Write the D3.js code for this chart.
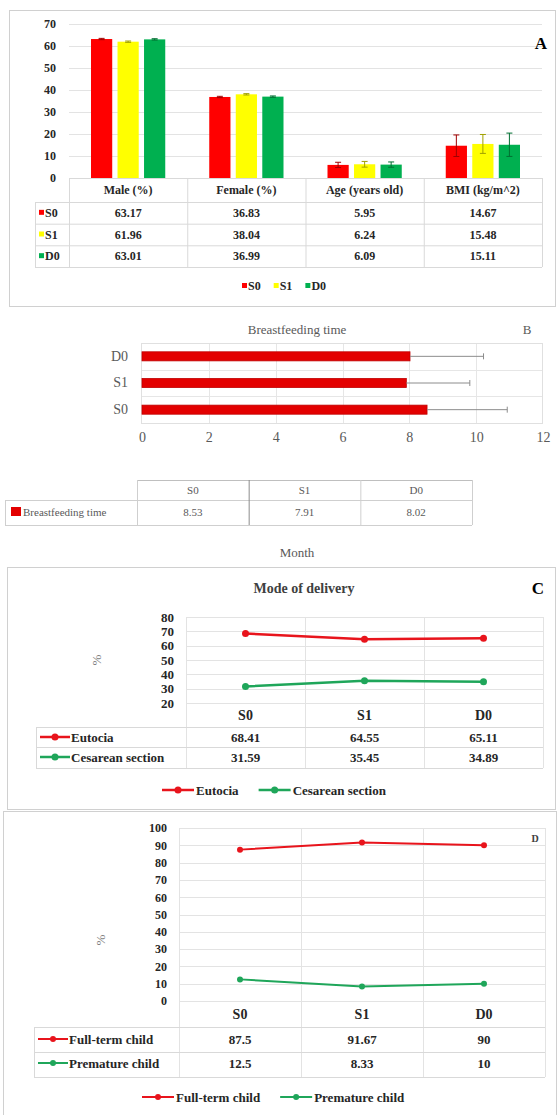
<!DOCTYPE html>
<html>
<head>
<meta charset="utf-8">
<script src="https://cdn.jsdelivr.net/npm/d3@7"></script>
<style>
  body { margin: 0; background: #fff; }
  svg { display: block; }
  svg text { font-family: "Liberation Serif", "Times New Roman", "DejaVu Serif", serif !important; }
</style>
</head>
<body>
<div id="chart"></div>
<script>
"use strict";

// ---- data ----
const groups = ["S0", "S1", "D0"];
const groupColors = ["#ff0000", "#ffff00", "#00b050"];

// panel A
const aCategories = ["Male (%)", "Female (%)", "Age (years old)", "BMI (kg/m^2)"];
const aS0 = [63.17, 36.83, 5.95, 14.67];
const aS1 = [61.96, 38.04, 6.24, 15.48];
const aD0 = [63.01, 36.99, 6.09, 15.11];
const aErrS0 = [0.3, 0.3, 1.2, 4.9];
const aErrS1 = [0.3, 0.3, 1.3, 4.3];
const aErrD0 = [0.3, 0.3, 1.2, 5.3];
const aTicks = [0, 10, 20, 30, 40, 50, 60, 70];

// panel B
const bGroups = ["S0", "S1", "D0"];
const bMeans = [8.53, 7.91, 8.02];
const bSD = [2.4, 1.9, 2.2];
const bTicks = [0, 2, 4, 6, 8, 10, 12];

// panel C
const cGroups = ["S0", "S1", "D0"];
const eutocia = [68.41, 64.55, 65.11];
const cesarean = [31.59, 35.45, 34.89];
const cTicks = [20, 30, 40, 50, 60, 70, 80];

// panel D
const dGroups = ["S0", "S1", "D0"];
const fullTerm = [87.5, 91.67, 90];
const premature = [12.5, 8.33, 10];
const dTicks = [0, 10, 20, 30, 40, 50, 60, 70, 80, 90, 100];

const lineRed = "#e8141c";
const lineGreen = "#1fa65a";
const gridCol = "#d9d9d9";
const textDark = "#262626";

let width = 557;
let height = 1115;

let svg = d3.select("#chart")
  .append("svg")
  .attr("width", width)
  .attr("height", height);

// panel frames
svg.append("rect").attr("x", 9.5).attr("y", 10.5).attr("width", 546).attr("height", 296)
  .attr("fill", "none").attr("stroke", "#d0d0d0");
svg.append("rect").attr("x", 7.5).attr("y", 567.5).attr("width", 548).attr("height", 242)
  .attr("fill", "none").attr("stroke", "#d0d0d0");
svg.append("rect").attr("x", 3.5).attr("y", 811.5).attr("width", 553).attr("height", 310)
  .attr("fill", "none").attr("stroke", "#d0d0d0");

// ================= Panel A =================
{
  let g = svg.append("g");
  let x0 = d3.scaleBand().domain(aCategories).range([69, 542]);
  let x1 = d3.scaleBand().domain(groups).range([22, x0.bandwidth() - 22]).paddingInner(0.2);
  let y = d3.scaleLinear().domain([0, 70]).range([178, 24]);
  let color = d3.scaleOrdinal().domain(groups).range(groupColors);
  let vals = [aS0, aS1, aD0];
  let errs = [aErrS0, aErrS1, aErrD0];

  let rows = [];
  aCategories.forEach((c, i) => groups.forEach((s, j) => {
    rows.push({ cat: c, grp: s, v: vals[j][i], e: errs[j][i] });
  }));

  // gridlines
  g.selectAll(".grid").data(aTicks.slice(1)).enter().append("line")
    .attr("x1", 69).attr("x2", 542)
    .attr("y1", d => y(d) + 0.5).attr("y2", d => y(d) + 0.5)
    .attr("stroke", "#e3e3e3");

  // y axis labels
  let ya = g.append("g").attr("transform", "translate(60,0)")
    .call(d3.axisLeft(y).tickValues(aTicks).tickSize(0).tickPadding(4));
  ya.select(".domain").remove();
  ya.selectAll("text").attr("font-weight", "bold").attr("font-size", 12).attr("fill", textDark);

  // bars
  g.selectAll(".bar").data(rows).enter().append("rect")
    .attr("x", d => x0(d.cat) + x1(d.grp))
    .attr("y", d => y(d.v))
    .attr("width", x1.bandwidth())
    .attr("height", d => y(0) - y(d.v))
    .attr("fill", d => color(d.grp));

  // error bars
  let eb = g.selectAll(".err").data(rows).enter().append("g")
    .attr("stroke", d => d3.color(color(d.grp)).darker(1.3))
    .attr("stroke-width", 1);
  eb.append("line")
    .attr("x1", d => x0(d.cat) + x1(d.grp) + x1.bandwidth() / 2)
    .attr("x2", d => x0(d.cat) + x1(d.grp) + x1.bandwidth() / 2)
    .attr("y1", d => y(d.v - d.e)).attr("y2", d => y(d.v + d.e));
  eb.append("line")
    .attr("x1", d => x0(d.cat) + x1(d.grp) + x1.bandwidth() / 2 - 3)
    .attr("x2", d => x0(d.cat) + x1(d.grp) + x1.bandwidth() / 2 + 3)
    .attr("y1", d => y(d.v + d.e)).attr("y2", d => y(d.v + d.e));
  eb.append("line")
    .attr("x1", d => x0(d.cat) + x1(d.grp) + x1.bandwidth() / 2 - 3)
    .attr("x2", d => x0(d.cat) + x1(d.grp) + x1.bandwidth() / 2 + 3)
    .attr("y1", d => y(d.v - d.e)).attr("y2", d => y(d.v - d.e));

  // data table
  let ty = d3.scaleBand().domain(groups).range([202, 267]);
  g.append("line").attr("x1", 69).attr("x2", 542).attr("y1", 178.5).attr("y2", 178.5).attr("stroke", gridCol);
  [202, 223.7, 245.3, 267].forEach(v => {
    g.append("line").attr("x1", 35).attr("x2", 542).attr("y1", v + 0.5).attr("y2", v + 0.5).attr("stroke", gridCol);
  });
  x0.domain().concat(["end"]).forEach(c => {
    let xx = c === "end" ? 542 : x0(c);
    g.append("line").attr("x1", xx + 0.5).attr("x2", xx + 0.5).attr("y1", 178).attr("y2", 267).attr("stroke", gridCol);
  });
  g.append("line").attr("x1", 35.5).attr("x2", 35.5).attr("y1", 202).attr("y2", 267).attr("stroke", gridCol);

  g.selectAll(".hdr").data(aCategories).enter().append("text")
    .attr("x", d => x0(d) + x0.bandwidth() / 2).attr("y", 194)
    .attr("text-anchor", "middle").attr("font-size", 12).attr("font-weight", "bold").attr("fill", textDark)
    .text(d => d);

  groups.forEach((s, j) => {
    let cy = ty(s) + ty.bandwidth() / 2;
    g.append("rect").attr("x", 39).attr("y", cy - 3).attr("width", 5).attr("height", 5).attr("fill", color(s));
    g.append("text").attr("x", 45).attr("y", cy + 4).attr("font-size", 12).attr("font-weight", "bold")
      .attr("fill", textDark).text(s);
    g.selectAll(".cell" + j).data(aCategories).enter().append("text")
      .attr("x", d => x0(d) + x0.bandwidth() / 2).attr("y", cy + 4)
      .attr("text-anchor", "middle").attr("font-size", 12).attr("font-weight", "bold").attr("fill", textDark)
      .text((d, i) => vals[j][i].toFixed(2));
  });

  // legend
  let lg = g.append("g").attr("transform", "translate(242,286)");
  let lx = 0;
  groups.forEach(s => {
    lg.append("rect").attr("x", lx).attr("y", -3).attr("width", 5).attr("height", 5).attr("fill", color(s));
    let t = lg.append("text").attr("x", lx + 6).attr("y", 4).attr("font-size", 12).attr("font-weight", "bold")
      .attr("fill", textDark).text(s);
    lx += 6 + t.node().getComputedTextLength() + 13;
  });

  g.append("text").attr("x", 541).attr("y", 49).attr("text-anchor", "middle")
    .attr("font-size", 17).attr("font-weight", "bold").attr("fill", "#000").text("A");
}

// ================= Panel B =================
{
  let g = svg.append("g");
  let grey = "#595959";
  let x = d3.scaleLinear().domain([0, 12]).range([142, 543]);
  let y = d3.scaleBand().domain(["D0", "S1", "S0"]).range([343, 423]).paddingInner(0.66).paddingOuter(0.33);
  let rows = bGroups.map((s, i) => ({ grp: s, v: bMeans[i], e: bSD[i] }));

  g.append("text").attr("x", 297).attr("y", 334).attr("text-anchor", "middle")
    .attr("font-size", 13).attr("fill", grey).text("Breastfeeding time");
  g.append("text").attr("x", 527).attr("y", 334).attr("text-anchor", "middle")
    .attr("font-size", 13).attr("fill", grey).text("B");

  // grid
  g.selectAll(".vg").data(bTicks.slice(1, -1)).enter().append("line")
    .attr("x1", d => Math.round(x(d)) + 0.5).attr("x2", d => Math.round(x(d)) + 0.5)
    .attr("y1", 343).attr("y2", 423).attr("stroke", "#e6e6e6");
  [343 + 80 / 3, 343 + 160 / 3].forEach(v => {
    g.append("line").attr("x1", 142).attr("x2", 543).attr("y1", Math.round(v) + 0.5).attr("y2", Math.round(v) + 0.5)
      .attr("stroke", "#e6e6e6");
  });
  g.append("rect").attr("x", 141.5).attr("y", 343.5).attr("width", 401).attr("height", 80)
    .attr("fill", "none").attr("stroke", "#e0e0e0");

  // bars
  g.selectAll(".bbar").data(rows).enter().append("rect")
    .attr("x", x(0)).attr("y", d => y(d.grp))
    .attr("width", d => x(d.v) - x(0)).attr("height", y.bandwidth())
    .attr("fill", "#e30000").attr("stroke", "#c00000").attr("stroke-width", 0.8);

  // error bars
  let eb = g.selectAll(".berr").data(rows).enter().append("g").attr("stroke", "#8c8c8c");
  eb.append("line").attr("x1", d => x(d.v)).attr("x2", d => x(d.v + d.e))
    .attr("y1", d => y(d.grp) + y.bandwidth() / 2).attr("y2", d => y(d.grp) + y.bandwidth() / 2);
  eb.append("line").attr("x1", d => x(d.v + d.e)).attr("x2", d => x(d.v + d.e))
    .attr("y1", d => y(d.grp) + y.bandwidth() / 2 - 3).attr("y2", d => y(d.grp) + y.bandwidth() / 2 + 3);

  // axes labels
  let xa = g.append("g").attr("transform", "translate(0,428)")
    .call(d3.axisBottom(x).tickValues(bTicks).tickSize(0).tickPadding(4));
  xa.select(".domain").remove();
  xa.selectAll("text").attr("font-size", 14).attr("fill", grey);

  let ya = g.append("g").attr("transform", "translate(132,0)")
    .call(d3.axisLeft(y).tickSize(0).tickPadding(4));
  ya.select(".domain").remove();
  ya.selectAll("text").attr("font-size", 14).attr("fill", grey);

  // data table
  let tx = d3.scaleBand().domain(bGroups).range([137, 472]);
  g.append("line").attr("x1", 137).attr("x2", 472).attr("y1", 480.5).attr("y2", 480.5).attr("stroke", "#bfbfbf");
  [500, 525].forEach(v => g.append("line").attr("x1", 5).attr("x2", 472)
    .attr("y1", v + 0.5).attr("y2", v + 0.5).attr("stroke", "#cfcfcf"));
  g.append("line").attr("x1", 5.5).attr("x2", 5.5).attr("y1", 500).attr("y2", 525).attr("stroke", "#cfcfcf");
  bGroups.concat(["end"]).forEach(s => {
    let xx = s === "end" ? 472 : tx(s);
    g.append("line").attr("x1", xx + 0.5).attr("x2", xx + 0.5).attr("y1", 480).attr("y2", 525)
      .attr("stroke", s === "S1" ? "#8c8c8c" : "#cfcfcf");
  });
  g.selectAll(".bh").data(bGroups).enter().append("text")
    .attr("x", d => tx(d) + tx.bandwidth() / 2).attr("y", 494)
    .attr("text-anchor", "middle").attr("font-size", 11).attr("fill", grey).text(d => d);
  g.selectAll(".bv").data(rows).enter().append("text")
    .attr("x", d => tx(d.grp) + tx.bandwidth() / 2).attr("y", 516)
    .attr("text-anchor", "middle").attr("font-size", 11).attr("fill", grey).text(d => d.v.toFixed(2));
  g.append("rect").attr("x", 11).attr("y", 507).attr("width", 10).attr("height", 9).attr("fill", "#e30000");
  g.append("text").attr("x", 23).attr("y", 516).attr("font-size", 11).attr("fill", grey).text("Breastfeeding time");

  g.append("text").attr("x", 297).attr("y", 557).attr("text-anchor", "middle")
    .attr("font-size", 13).attr("fill", grey).text("Month");
}

// ================= Line panels C and D =================
function linePanel(o) {
  let g = svg.append("g");
  let x = d3.scaleBand().domain(o.cats).range(o.xRange);
  let y = d3.scaleLinear().domain(o.yDomain).range(o.yRange);
  let [xl, xr] = o.xRange;

  // horizontal gridlines
  g.selectAll(".hg").data(o.ticks).enter().append("line")
    .attr("x1", xl).attr("x2", xr)
    .attr("y1", d => Math.round(y(d)) + 0.5).attr("y2", d => Math.round(y(d)) + 0.5)
    .attr("stroke", "#e3e3e3");
  // vertical band lines (run through the table)
  o.cats.concat(["end"]).forEach(c => {
    let xx = c === "end" ? xr : x(c);
    g.append("line").attr("x1", Math.round(xx) + 0.5).attr("x2", Math.round(xx) + 0.5)
      .attr("y1", o.yRange[1]).attr("y2", o.rowLines[o.rowLines.length - 1]).attr("stroke", "#e3e3e3");
  });
  o.rowLines.forEach(v => g.append("line").attr("x1", o.tableLeft).attr("x2", xr)
    .attr("y1", v + 0.5).attr("y2", v + 0.5).attr("stroke", gridCol));
  g.append("line").attr("x1", o.tableLeft + 0.5).attr("x2", o.tableLeft + 0.5)
    .attr("y1", o.rowLines[0]).attr("y2", o.rowLines[o.rowLines.length - 1]).attr("stroke", gridCol);

  // y axis labels
  let ya = g.append("g").attr("transform", `translate(${xl - 8},0)`)
    .call(d3.axisLeft(y).tickValues(o.ticks).tickSize(0).tickPadding(4));
  ya.select(".domain").remove();
  ya.selectAll("text").attr("font-weight", "bold").attr("font-size", o.tickSize).attr("fill", textDark);

  g.append("text").attr("transform", `translate(${o.pctX},${o.pctY}) rotate(-90)`)
    .attr("text-anchor", "middle").attr("font-size", 13).attr("fill", "#7f7f7f").text("%");

  // lines
  let line = d3.line().x((d, i) => x(o.cats[i]) + x.bandwidth() / 2).y(d => y(d));
  o.series.forEach(s => {
    g.append("path").datum(s.values).attr("d", line)
      .attr("fill", "none").attr("stroke", s.color).attr("stroke-width", o.lw);
    g.selectAll(null).data(s.values).enter().append("circle")
      .attr("cx", (d, i) => x(o.cats[i]) + x.bandwidth() / 2).attr("cy", d => y(d))
      .attr("r", o.r).attr("fill", s.color);
  });

  // table: categories and values
  g.selectAll(".cl").data(o.cats).enter().append("text")
    .attr("x", d => x(d) + x.bandwidth() / 2).attr("y", o.catY)
    .attr("text-anchor", "middle").attr("font-size", 14).attr("font-weight", "bold").attr("fill", textDark)
    .text(d => d);
  o.series.forEach((s, k) => {
    let cy = o.rowY[k];
    g.append("line").attr("x1", o.tableLeft + 4).attr("x2", o.tableLeft + 34)
      .attr("y1", cy).attr("y2", cy).attr("stroke", s.color).attr("stroke-width", o.lw);
    g.append("circle").attr("cx", o.tableLeft + 19).attr("cy", cy).attr("r", o.r).attr("fill", s.color);
    g.append("text").attr("x", o.tableLeft + 35).attr("y", cy + 4.5).attr("font-size", 13)
      .attr("font-weight", "bold").attr("fill", textDark).text(s.name);
    g.selectAll(null).data(s.values).enter().append("text")
      .attr("x", (d, i) => x(o.cats[i]) + x.bandwidth() / 2).attr("y", cy + 4.5)
      .attr("text-anchor", "middle").attr("font-size", 13).attr("font-weight", "bold").attr("fill", textDark)
      .text(d => String(d));
  });

  // legend
  let lg = g.append("g").attr("transform", `translate(${o.legendX},${o.legendY})`);
  let lx = 0;
  o.series.forEach(s => {
    lg.append("line").attr("x1", lx).attr("x2", lx + 32).attr("y1", 0).attr("y2", 0)
      .attr("stroke", s.color).attr("stroke-width", o.lw);
    lg.append("circle").attr("cx", lx + 16).attr("cy", 0).attr("r", o.r).attr("fill", s.color);
    let t = lg.append("text").attr("x", lx + 34).attr("y", 4.5).attr("font-size", 13).attr("font-weight", "bold")
      .attr("fill", textDark).text(s.name);
    lx += 34 + t.node().getComputedTextLength() + 20;
  });
  return g;
}

let gc = linePanel({
  cats: cGroups, ticks: cTicks, yDomain: [20, 80], yRange: [703, 617], xRange: [186, 543],
  series: [{ name: "Eutocia", values: eutocia, color: lineRed },
           { name: "Cesarean section", values: cesarean, color: lineGreen }],
  rowLines: [727, 747, 768], tableLeft: 36, catY: 720, rowY: [737, 757],
  legendX: 162, legendY: 790, pctX: 101, pctY: 660, tickSize: 13, lw: 2.5, r: 3.5
});
gc.append("text").attr("x", 304).attr("y", 593).attr("text-anchor", "middle")
  .attr("font-size", 14).attr("font-weight", "bold").attr("fill", "#404040").text("Mode of delivery");
gc.append("text").attr("x", 538).attr("y", 594).attr("text-anchor", "middle")
  .attr("font-size", 17).attr("font-weight", "bold").attr("fill", "#000").text("C");

let gd = linePanel({
  cats: dGroups, ticks: dTicks, yDomain: [0, 100], yRange: [1001, 828], xRange: [179, 545],
  series: [{ name: "Full-term child", values: fullTerm, color: lineRed },
           { name: "Premature child", values: premature, color: lineGreen }],
  rowLines: [1027, 1052, 1077], tableLeft: 34, catY: 1019, rowY: [1039, 1063],
  legendX: 142, legendY: 1097, pctX: 105, pctY: 940, tickSize: 12, lw: 2, r: 3
});
gd.append("text").attr("x", 535).attr("y", 842).attr("text-anchor", "middle")
  .attr("font-size", 10).attr("font-weight", "bold").attr("fill", "#404040").text("D");
</script>
</body>
</html>
